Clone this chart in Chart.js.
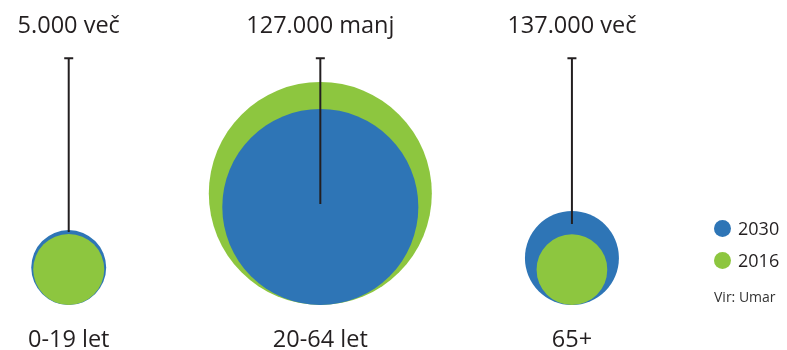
<!DOCTYPE html>
<html>
<head>
<meta charset="utf-8">
<script src="https://cdn.jsdelivr.net/npm/chart.js@4.4.1/dist/chart.umd.min.js"></script>
<style>
  html, body { margin: 0; padding: 0; background: #fff; }
  #wrap { position: relative; width: 787px; height: 350px; }
  #legend { position: absolute; left: 714px; top: 212px; font-family: 'Open Sans', sans-serif; color: #231f20; }
  .row { display: flex; align-items: center; height: 32px; font-size: 18px; }
  .dot { width: 17px; height: 17px; border-radius: 50%; margin-right: 7px; }
  .src { margin-top: 11px; font-size: 14px; color: #333; }
</style>
</head>
<body>
<div id="wrap">
  <canvas id="chart" width="787" height="350"></canvas>
  <div id="legend"></div>
</div>
<script>
// starostne skupine in sprememba 2016 -> 2030
const categories = ['0-19 let', '20-64 let', '65+'];
const changeLabels = ['5.000 več', '127.000 manj', '137.000 več'];
const years = ['2030', '2016'];
// prebivalci v tisočih (premer kroga ~ vrednost)
const pop2016 = [403, 1265, 401];
const pop2030 = [425, 1112, 533];
// navpične črte od napisa navzdol
const leaderTop = 1400;
const leaderEnd = [414, 573, 459];

const colors = { '2030': '#2e75b6', '2016': '#8dc63f' };
const textColor = '#231f20';
const fontFamily = "'Open Sans', sans-serif";

// večji krog gre zadaj, manjši spredaj
const backPts = [], frontPts = [], backCol = [], frontCol = [];
categories.forEach((c, i) => {
    const a = { x: i, y: pop2016[i] / 2, v: pop2016[i] };
    const b = { x: i, y: pop2030[i] / 2, v: pop2030[i] };
    if (pop2016[i] >= pop2030[i]) {
        backPts.push(a); backCol.push(colors['2016']);
        frontPts.push(b); frontCol.push(colors['2030']);
    } else {
        backPts.push(b); backCol.push(colors['2030']);
        frontPts.push(a); frontCol.push(colors['2016']);
    }
});

// polmer v pikslih iz y osi, da krogi stojijo na isti osnovnici
function radiusFromScale(ctx) {
    if (!ctx.raw) return 0;
    const y = ctx.chart.scales.y;
    return y.getPixelForValue(0) - y.getPixelForValue(ctx.raw.v / 2);
}

const leaderSets = categories.map((c, i) => ({
    type: 'line',
    data: [{ x: i, y: leaderTop }, { x: i, y: leaderEnd[i] }],
    borderColor: textColor,
    borderWidth: 2,
    pointStyle: 'line',
    pointRadius: [4.5, 0],
    pointBorderColor: textColor,
    pointBorderWidth: 2,
    order: 0
}));

const xMin = -0.2473, xMax = 2.829;

function fixAxis(height) {
    return s => { s.height = height; s.paddingLeft = 0; s.paddingRight = 0; };
}

new Chart(document.getElementById('chart'), {
    type: 'scatter',
    data: {
        datasets: [
            { data: backPts, backgroundColor: backCol, pointBorderWidth: 0, pointRadius: radiusFromScale, order: 2 },
            { data: frontPts, backgroundColor: frontCol, pointBorderWidth: 0, pointRadius: radiusFromScale, order: 1 },
            ...leaderSets
        ]
    },
    options: {
        responsive: false,
        animation: false,
        events: [],
        layout: { padding: 0 },
        plugins: { legend: { display: false }, tooltip: { enabled: false } },
        scales: {
            x: {
                type: 'linear', position: 'bottom', min: xMin, max: xMax, bounds: 'data',
                grid: { display: false, drawTicks: false }, border: { display: false },
                afterBuildTicks: s => { s.ticks = categories.map((c, i) => ({ value: i })); },
                afterFit: fixAxis(45),
                ticks: {
                    callback: (v, i) => categories[i],
                    autoSkip: false, maxRotation: 0,
                    color: textColor, padding: 21.4,
                    font: { family: fontFamily, size: 23.5 }
                }
            },
            x2: {
                type: 'linear', position: 'top', min: xMin, max: xMax, bounds: 'data',
                grid: { display: false, drawTicks: false }, border: { display: false },
                afterBuildTicks: s => { s.ticks = changeLabels.map((c, i) => ({ value: i })); },
                afterFit: fixAxis(40),
                ticks: {
                    callback: (v, i) => changeLabels[i],
                    autoSkip: false, maxRotation: 0,
                    color: textColor, padding: 0,
                    font: { family: fontFamily, size: 23.5 }
                }
            },
            y: { display: false, min: 0, max: 1503 }
        }
    }
});

// legenda
const legend = document.getElementById('legend');
years.forEach(yr => {
    const row = document.createElement('div');
    row.className = 'row';
    row.innerHTML = `<span class="dot" style="background:${colors[yr]}"></span><span>${yr}</span>`;
    legend.appendChild(row);
});
const src = document.createElement('div');
src.className = 'src';
src.textContent = 'Vir: Umar';
legend.appendChild(src);
</script>
</body>
</html>
